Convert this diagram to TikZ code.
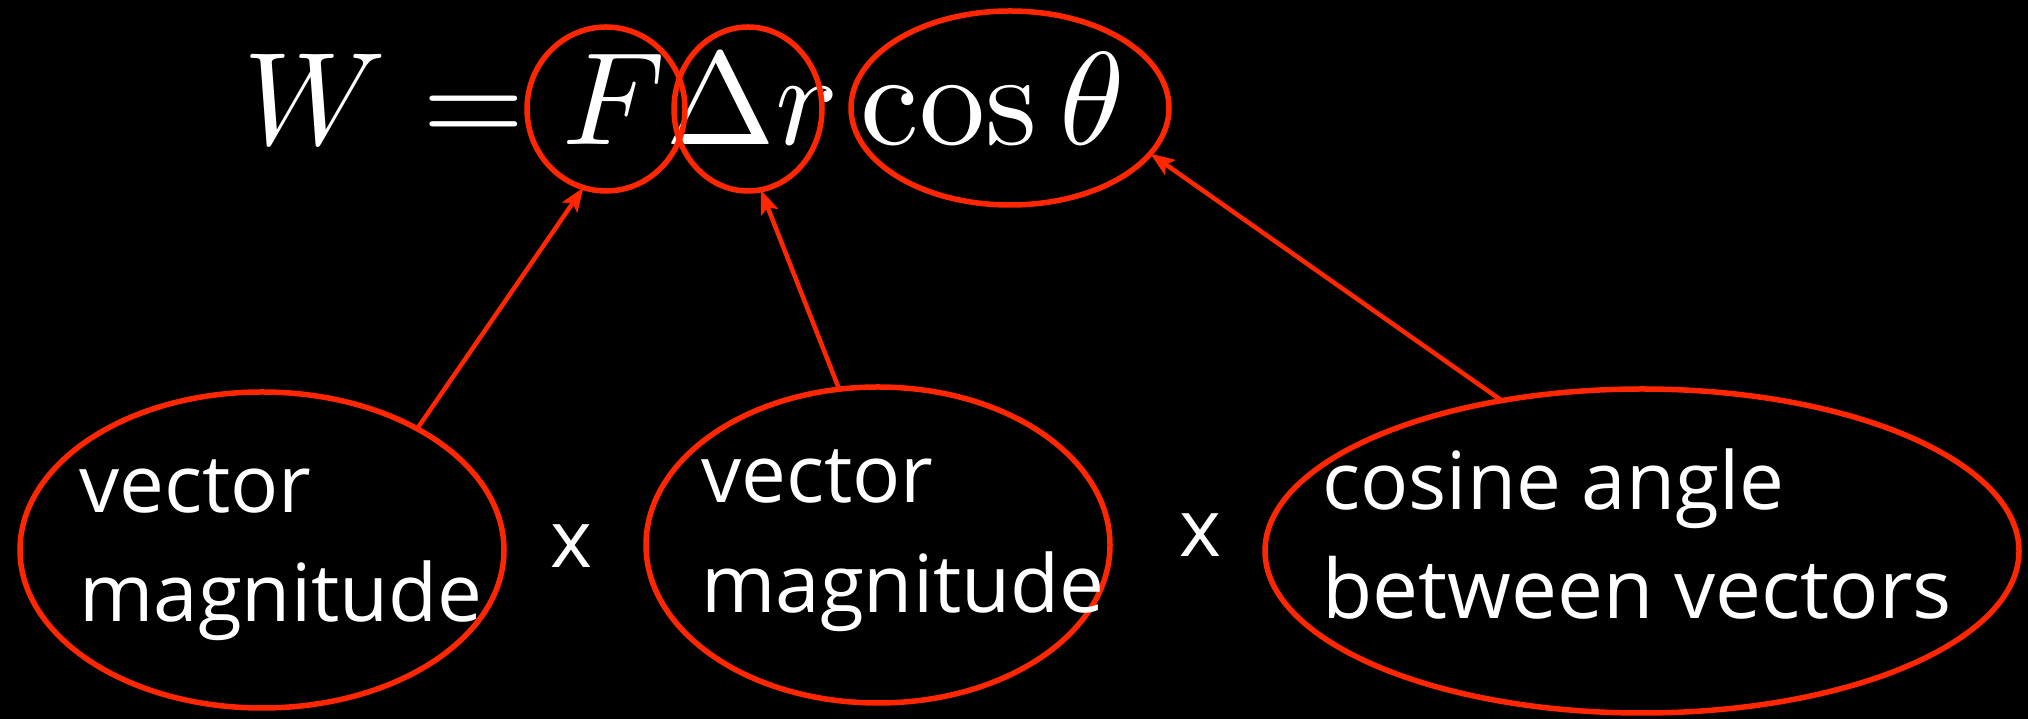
\documentclass[tikz,border=0pt]{standalone}
\usepackage[no-math]{fontspec}
\usepackage{graphicx}
\usetikzlibrary{shapes.geometric,arrows.meta}
\newfontfamily\lblfont{Open Sans}
\definecolor{rd}{RGB}{255,38,0}
\tikzset{
  ring/.style={draw=rd, line width=5.5pt, ellipse, inner sep=0pt, outer sep=0pt},
  lbl/.style={text=white, inner sep=0pt, anchor=base west, font=\lblfont\fontsize{80}{96}\selectfont},
  times/.style={text=white, inner sep=0pt, anchor=base, font=\lblfont\fontsize{80}{96}\selectfont},
  arr/.style={draw=rd, line width=4.5pt, -{Stealth[length=24pt,width=18pt,inset=5pt]}}
}
\begin{document}
\begin{tikzpicture}[x=1pt,y=1pt]
\fill[black] (0,0) rectangle (2028,719);
\useasboundingbox (0,0) rectangle (2028,719);
% formula
\node[text=white, inner sep=0pt, anchor=base west] (eq) at (243,574)
  {\fontsize{10}{12}\selectfont\scalebox{13.2}{$W = F\Delta r\cos\theta$}};
% top rings
\node[ring, minimum width=158pt, minimum height=164pt] (F) at (606,610) {};
\node[ring, minimum width=148pt, minimum height=164pt] (D) at (748,610) {};
\node[ring, minimum width=318pt, minimum height=194pt] (C) at (1010,611) {};
% bottom rings
\node[ring, minimum width=484pt, minimum height=316pt] (bl) at (262,169) {};
\node[ring, minimum width=464pt, minimum height=316pt] (bm) at (878,174) {};
\node[ring, minimum width=754pt, minimum height=324pt] (br) at (1642,168) {};
% labels
\node[lbl] (bl1) at (79,206) {vector};
\node[lbl] (bl2) at (79,97) {magnitude};
\node[lbl] (bm1) at (701,216) {vector};
\node[lbl] (bm2) at (701,106) {magnitude};
\node[lbl] (br1) at (1322,209) {cosine angle};
\node[lbl, font=\lblfont\fontsize{82}{96}\selectfont] (br2) at (1322,100) {between vectors};
\node[times] (x1) at (571,151) {x};
\node[times] (x2) at (1200,162) {x};
% arrows
\draw[arr] (bl.38.3) -- (F.254.7);
\draw[arr] (bm.104.4) -- (D.279.4);
\draw[arr] (br.133.7) -- (C.342.3);
\end{tikzpicture}
\end{document}
